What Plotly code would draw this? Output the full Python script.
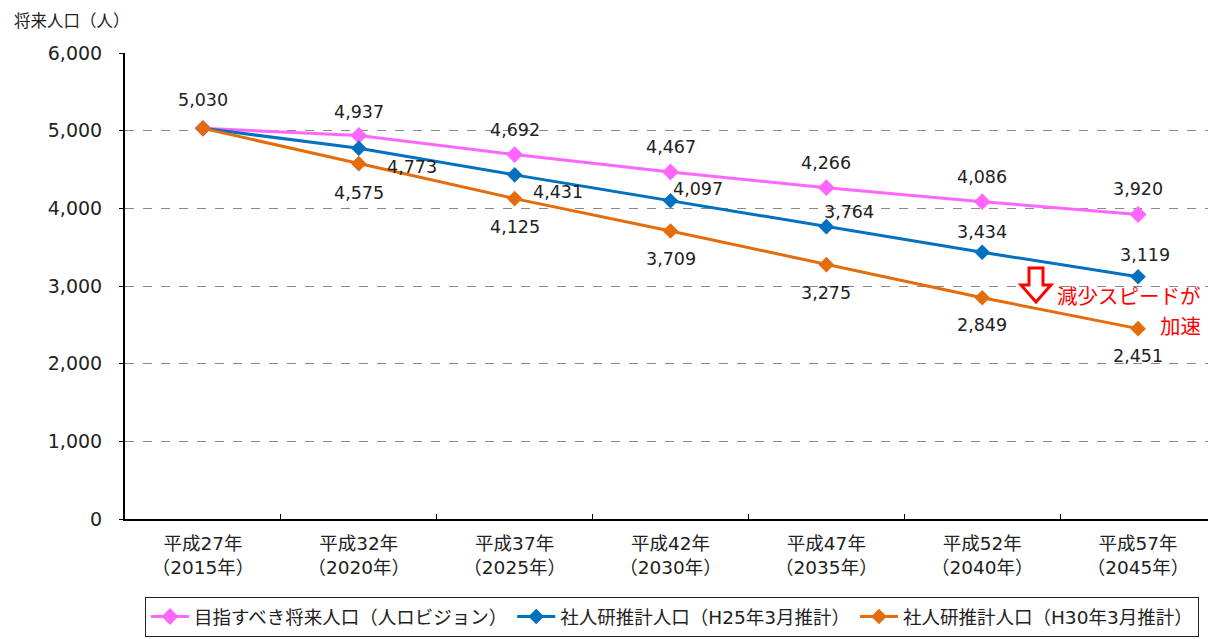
import plotly.graph_objects as go

categories = ["平成27年<br>（2015年）", "平成32年<br>（2020年）", "平成37年<br>（2025年）",
              "平成42年<br>（2030年）", "平成47年<br>（2035年）", "平成52年<br>（2040年）",
              "平成57年<br>（2045年）"]
vision = [5030, 4937, 4692, 4467, 4266, 4086, 3920]
h25 = [5030, 4773, 4431, 4097, 3764, 3434, 3119]
h30 = [5030, 4575, 4125, 3709, 3275, 2849, 2451]
names = ["目指すべき将来人口（人ロビジョン）", "社人研推計人口（H25年3月推計）", "社人研推計人口（H30年3月推計）"]
y_ticks = [0, 1000, 2000, 3000, 4000, 5000, 6000]

CJK = "Noto Sans CJK JP"
MIX = "'DejaVu Sans', 'Noto Sans CJK JP'"
colors = ["#FF66FF", "#0070C0", "#E46C0A"]

# plot area in page pixels (for placing decorations)
PL, PR, PT, PB = 125, 1216, 53, 519
def px(xp):
    return (xp - PL) / (PR - PL)
def py(yp):
    return (PB - yp) / (PB - PT)

fig = go.Figure()
for vals, name, col, ms in zip([vision, h25, h30], names, colors, [13, 12, 12]):
    fig.add_trace(go.Scatter(
        x=categories, y=vals, name=name, mode="lines+markers",
        line=dict(color=col, width=3),
        marker=dict(symbol="diamond", size=ms, color=col),
    ))

# label offsets (xshift, yshift) per point; None = no label
pink_off = [(0, 28), (0, 24), (0, 25), (0, 25), (0, 25), (0, 25), (0, 26)]
blue_off = [None, (53, -19), (43, -17), (27, 12), (23, 15), (0, 20), (7, 22)]
orange_off = [None, (0, -29), (0, -28), (0, -28), (0, -28), (0, -27), (0, -27)]

for vals, offs in [(vision, pink_off), (h25, blue_off), (h30, orange_off)]:
    for c, v, o in zip(categories, vals, offs):
        if o is None:
            continue
        fig.add_annotation(x=c, y=v, text=f"{v:,}", showarrow=False,
                           xshift=o[0], yshift=o[1],
                           font=dict(family="DejaVu Sans", size=17.5, color="#222"))

fig.add_annotation(xref="paper", yref="paper", x=px(12), y=py(20), xanchor="left", yanchor="middle",
                   text="将来人口（人）", showarrow=False,
                   font=dict(family=CJK, size=16.5, color="#222"))

fig.add_annotation(xref="paper", yref="paper", x=px(1203), y=py(295), xanchor="right", yanchor="middle",
                   text="減少スピードが", showarrow=False,
                   font=dict(family=CJK, size=20.5, color="#FF0000"))
fig.add_annotation(xref="paper", yref="paper", x=px(1203), y=py(325), xanchor="right", yanchor="middle",
                   text="加速", showarrow=False,
                   font=dict(family=CJK, size=20.5, color="#FF0000"))

arrow_px = [(1029, 268), (1043, 268), (1043, 285), (1051, 285), (1036, 302), (1021, 285), (1029, 285)]
path = "M " + " L ".join(f"{px(a):.5f},{py(b):.5f}" for a, b in arrow_px) + " Z"
fig.add_shape(type="path", xref="paper", yref="paper", path=path,
              line=dict(color="#FF0000", width=3), fillcolor="white")

fig.update_layout(
    width=1208, height=631,
    margin=dict(l=117, r=0, t=45, b=120),
    paper_bgcolor="white", plot_bgcolor="white",
    font=dict(family=MIX, size=17, color="#222"),
    showlegend=True,
    legend=dict(orientation="h", x=px(672), xanchor="center", y=py(597), yanchor="top",
                bordercolor="#222", borderwidth=1, font=dict(size=18.5, family=MIX, color="#222"),
                itemwidth=38),
    xaxis=dict(type="category", range=[-0.5, 6.5], showline=True, linecolor="black", linewidth=2,
               ticks="inside", tickson="boundaries", ticklen=5, tickcolor="black",
               ticklabelstandoff=7,
               showgrid=False, tickfont=dict(size=18.5, family=MIX, color="#222")),
    yaxis=dict(range=[0, 6000], tickvals=y_ticks, tickformat=",d", showline=True,
               linecolor="black", linewidth=2, showgrid=True, gridcolor="#888",
               griddash="dash", gridwidth=1, ticks="outside", ticklen=4, tickcolor="black",
               ticklabelstandoff=13,
               tickfont=dict(size=19, family="DejaVu Sans", color="#222"), zeroline=False),
)

fig.write_html("out.html")
